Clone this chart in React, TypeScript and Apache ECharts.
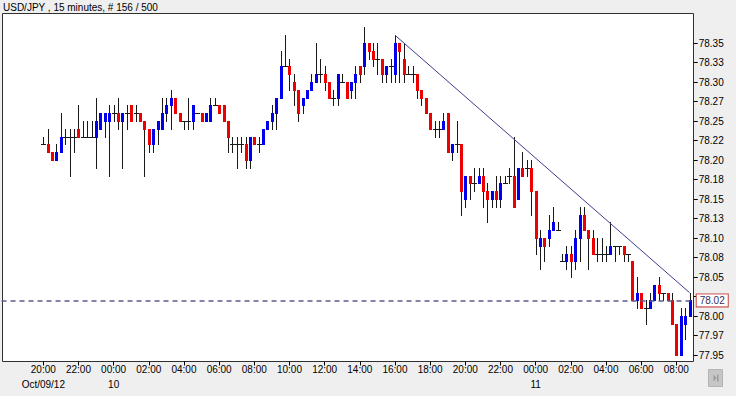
import React, { useEffect, useRef } from "react";
import * as echarts from "echarts";

// ---------- data ----------
const TITLE = "USD/JPY , 15 minutes, # 156 / 500";
const PAD = 9; // empty 15-minute slots before the first candle (17:45 .. 19:45)
const SLOTS = 157;

// [open, high, low, close] per 15-minute bar, Oct 9 20:00 -> Oct 11 08:45
const ohlc: number[][] = [
  // Oct 9 20:00
  [78.22, 78.23, 78.22, 78.22], [78.22, 78.24, 78.21, 78.21], [78.21, 78.21, 78.2, 78.2], [78.2, 78.22, 78.2, 78.21],
  [78.21, 78.26, 78.21, 78.23], [78.23, 78.24, 78.22, 78.23], [78.23, 78.24, 78.18, 78.23], [78.23, 78.24, 78.21, 78.23],
  // 22:00
  [78.24, 78.27, 78.23, 78.23], [78.23, 78.25, 78.23, 78.23], [78.23, 78.25, 78.23, 78.23], [78.23, 78.25, 78.23, 78.23],
  [78.23, 78.28, 78.19, 78.25], [78.24, 78.26, 78.24, 78.26], [78.25, 78.26, 78.23, 78.26], [78.25, 78.27, 78.18, 78.26],
  // Oct 10 00:00
  [78.26, 78.27, 78.25, 78.26], [78.26, 78.28, 78.24, 78.25], [78.25, 78.26, 78.19, 78.26], [78.26, 78.27, 78.24, 78.26],
  [78.27, 78.27, 78.25, 78.25], [78.26, 78.27, 78.25, 78.26], [78.26, 78.26, 78.25, 78.25], [78.25, 78.25, 78.18, 78.24],
  // 02:00
  [78.24, 78.24, 78.21, 78.22], [78.22, 78.24, 78.21, 78.24], [78.24, 78.25, 78.22, 78.25], [78.24, 78.28, 78.24, 78.26],
  [78.26, 78.28, 78.25, 78.27], [78.27, 78.29, 78.24, 78.28], [78.28, 78.28, 78.26, 78.26], [78.26, 78.26, 78.25, 78.25],
  // 04:00
  [78.25, 78.25, 78.24, 78.25], [78.25, 78.28, 78.24, 78.25], [78.25, 78.27, 78.24, 78.27], [78.26, 78.26, 78.26, 78.26],
  [78.26, 78.26, 78.25, 78.25], [78.25, 78.26, 78.25, 78.26], [78.25, 78.28, 78.25, 78.27], [78.27, 78.28, 78.27, 78.27],
  // 06:00
  [78.27, 78.27, 78.26, 78.26], [78.27, 78.27, 78.25, 78.25], [78.25, 78.25, 78.21, 78.23], [78.22, 78.23, 78.21, 78.22],
  [78.22, 78.23, 78.19, 78.22], [78.22, 78.23, 78.21, 78.22], [78.22, 78.23, 78.19, 78.2], [78.2, 78.23, 78.19, 78.23],
  // 08:00
  [78.23, 78.23, 78.22, 78.22], [78.22, 78.23, 78.21, 78.22], [78.22, 78.24, 78.22, 78.24], [78.24, 78.25, 78.24, 78.25],
  [78.25, 78.27, 78.24, 78.26], [78.26, 78.28, 78.24, 78.28], [78.28, 78.34, 78.28, 78.32], [78.32, 78.36, 78.32, 78.32],
  // 10:00
  [78.32, 78.33, 78.29, 78.31], [78.3, 78.31, 78.27, 78.29], [78.29, 78.29, 78.25, 78.26], [78.27, 78.28, 78.26, 78.28],
  [78.28, 78.29, 78.28, 78.29], [78.29, 78.31, 78.29, 78.3], [78.3, 78.35, 78.3, 78.31], [78.31, 78.33, 78.3, 78.31],
  // 12:00
  [78.31, 78.32, 78.29, 78.3], [78.3, 78.3, 78.28, 78.28], [78.28, 78.29, 78.27, 78.28], [78.28, 78.31, 78.27, 78.31],
  [78.3, 78.31, 78.3, 78.3], [78.3, 78.3, 78.28, 78.28], [78.29, 78.3, 78.28, 78.3], [78.3, 78.32, 78.28, 78.31],
  // 14:00
  [78.32, 78.32, 78.3, 78.31], [78.32, 78.37, 78.31, 78.35], [78.35, 78.35, 78.33, 78.34], [78.34, 78.35, 78.32, 78.33],
  [78.33, 78.35, 78.31, 78.33], [78.33, 78.33, 78.3, 78.31], [78.31, 78.32, 78.3, 78.32], [78.32, 78.33, 78.3, 78.32],
  // 16:00
  [78.31, 78.36, 78.3, 78.35], [78.35, 78.35, 78.3, 78.34], [78.33, 78.35, 78.3, 78.31], [78.31, 78.32, 78.31, 78.31],
  [78.31, 78.32, 78.3, 78.31], [78.31, 78.31, 78.28, 78.29], [78.29, 78.29, 78.27, 78.28], [78.28, 78.28, 78.26, 78.26],
  // 18:00
  [78.26, 78.26, 78.24, 78.24], [78.24, 78.25, 78.23, 78.24], [78.24, 78.25, 78.23, 78.24], [78.24, 78.26, 78.24, 78.25],
  [78.26, 78.26, 78.21, 78.21], [78.21, 78.22, 78.2, 78.22], [78.22, 78.25, 78.21, 78.22], [78.22, 78.22, 78.13, 78.16],
  // 20:00
  [78.15, 78.18, 78.14, 78.18], [78.18, 78.18, 78.15, 78.17], [78.17, 78.19, 78.16, 78.17], [78.17, 78.19, 78.17, 78.18],
  [78.18, 78.19, 78.14, 78.16], [78.16, 78.17, 78.12, 78.15], [78.15, 78.16, 78.14, 78.16], [78.16, 78.18, 78.14, 78.15],
  // 22:00
  [78.15, 78.18, 78.14, 78.17], [78.17, 78.18, 78.17, 78.17], [78.18, 78.19, 78.17, 78.18], [78.18, 78.23, 78.14, 78.14],
  [78.15, 78.19, 78.15, 78.19], [78.19, 78.21, 78.18, 78.18], [78.19, 78.2, 78.18, 78.19], [78.19, 78.2, 78.13, 78.16],
  // Oct 11 00:00
  [78.16, 78.16, 78.08, 78.1], [78.09, 78.11, 78.06, 78.1], [78.1, 78.1, 78.07, 78.09], [78.1, 78.13, 78.09, 78.11],
  [78.11, 78.14, 78.11, 78.12], [78.11, 78.12, 78.11, 78.11], [78.07, 78.08, 78.07, 78.07], [78.07, 78.09, 78.06, 78.08],
  // 02:00
  [78.08, 78.09, 78.05, 78.07], [78.07, 78.11, 78.06, 78.1], [78.1, 78.14, 78.07, 78.13], [78.13, 78.14, 78.11, 78.11],
  [78.11, 78.11, 78.06, 78.1], [78.1, 78.11, 78.08, 78.08], [78.08, 78.1, 78.07, 78.08], [78.08, 78.1, 78.07, 78.08],
  // 04:00
  [78.08, 78.09, 78.07, 78.08], [78.08, 78.12, 78.08, 78.09], [78.09, 78.09, 78.07, 78.09], [78.09, 78.09, 78.08, 78.09],
  [78.09, 78.09, 78.07, 78.08], [78.08, 78.08, 78.07, 78.08], [78.07, 78.07, 78.02, 78.02], [78.02, 78.05, 78.01, 78.03],
  // 06:00
  [78.03, 78.03, 78.01, 78.01], [78.01, 78.02, 77.99, 78.01], [78.01, 78.03, 78.01, 78.02], [78.02, 78.04, 78.02, 78.04],
  [78.04, 78.05, 78.02, 78.03], [78.03, 78.03, 78.02, 78.03], [78.03, 78.03, 78.02, 78.02], [78.02, 78.03, 77.99, 77.99],
  // 08:00
  [77.99, 77.99, 77.95, 77.95], [77.95, 78.01, 77.95, 78.0], [77.99, 78.01, 77.97, 78.0], [78.0, 78.03, 78.0, 78.02],
];

const BID = 78.02;
const trendStart = { bar: 80, price: 78.36 };
const trendEnd = { bar: 147, price: 78.03 };

const yTickValues = [77.95, 77.975, 78.0, 78.025, 78.05, 78.075, 78.1, 78.125, 78.15, 78.175, 78.2, 78.225, 78.25, 78.275, 78.3, 78.325, 78.35];
const yTickLabels = ["77.95", "77.97", "78.00", "78.03", "78.05", "78.08", "78.10", "78.13", "78.15", "78.18", "78.20", "78.22", "78.25", "78.27", "78.30", "78.33", "78.35"];
const dateRow: Record<number, string> = { 0: "Oct/09/12", 16: "10", 112: "11" };

// category labels: one per 15-minute slot starting Oct 9 17:45
const pad2 = (n: number) => (n < 10 ? "0" + n : "" + n);
const categories: string[] = [];
for (let k = 0; k < SLOTS; k++) {
  const mins = 17 * 60 + 45 + k * 15;
  const day = 9 + Math.floor(mins / 1440);
  const m = mins % 1440;
  categories.push(`${day} ${pad2(Math.floor(m / 60))}:${pad2(m % 60)}`);
}

// ---------- style ----------
const FONT = "'Liberation Sans', Arial, sans-serif";
const UP = "#0000ee";
const DOWN = "#ee0000";
const WICK = "#1a1a1a";
const TREND = "#3c3c90";
const BIDCOL = "#5c5c8c";

const Y_MIN = 78.35 - (361.5 - 43) / 780;
const Y_MAX = 78.35 + (43 - 13.5) / 780;

const showTick = (index: number) => index >= PAD && (index - PAD) % 8 === 0;

function buildOption(): any {
  const candleData = ohlc.map((r, i) => [i + PAD, r[0], r[1], r[2], r[3]]);
  return {
    animation: false,
    backgroundColor: "#efefef",
    textStyle: { fontFamily: FONT },
    title: {
      text: TITLE,
      left: 3,
      top: 2,
      padding: 0,
      textStyle: { fontSize: 10, fontWeight: "normal", color: "#000", fontFamily: FONT },
    },
    grid: { left: 1.54, right: 44.29, top: 13.5, bottom: 34.5, show: false },
    xAxis: {
      type: "category",
      data: categories,
      boundaryGap: true,
      axisLine: { show: false },
      splitLine: { show: false },
      axisTick: { show: true, alignWithLabel: true, interval: showTick, length: 4, lineStyle: { color: "#000" } },
      axisLabel: {
        interval: showTick,
        fontSize: 10,
        color: "#000",
        fontFamily: FONT,
        margin: 0,
        lineHeight: 15,
        formatter: (value: string, index: number) => {
          const t = value.split(" ")[1];
          const d = dateRow[index - PAD];
          return d ? t + "\n" + d : t;
        },
      },
    },
    yAxis: {
      type: "value",
      position: "right",
      offset: 2,
      min: Y_MIN,
      max: Y_MAX,
      scale: true,
      splitLine: { show: false },
      axisLine: { show: false },
      axisTick: { show: true, length: 4, customValues: yTickValues, lineStyle: { color: "#000" } },
      axisLabel: {
        customValues: yTickValues,
        fontSize: 10,
        color: "#000",
        fontFamily: FONT,
        margin: 5,
        formatter: (val: number) => {
          if (Math.abs(val - BID) < 0.012) return "";
          const k = yTickValues.findIndex((v) => Math.abs(v - val) < 1e-6);
          return k >= 0 ? yTickLabels[k] : "";
        },
      },
    },
    graphic: [
      {
        type: "rect",
        z: -10,
        silent: true,
        shape: { x: 2.5, y: 13.5, width: 691, height: 348 },
        style: { fill: "#ffffff", stroke: "#303030", lineWidth: 1 },
      },
      {
        type: "group",
        left: 708,
        top: 369,
        silent: true,
        children: [
          { type: "rect", shape: { x: 0, y: 0, width: 14, height: 17 }, style: { fill: "#c6c6c6", stroke: "#b4b4b4", lineWidth: 1 } },
          { type: "polygon", shape: { points: [[5, 5], [8, 8.5], [5, 12]] }, style: { fill: "#9c9c9c" } },
          { type: "rect", shape: { x: 8.5, y: 5, width: 1.5, height: 7 }, style: { fill: "#9c9c9c" } },
        ],
      },
    ],
    series: [
      {
        type: "custom",
        data: candleData,
        encode: { x: 0, y: [1, 2, 3, 4] },
        clip: true,
        z: 3,
        renderItem: (params: any, api: any) => {
          const i = api.value(0);
          const o = api.value(1);
          const h = api.value(2);
          const l = api.value(3);
          const c = api.value(4);
          const pO = api.coord([i, o]);
          const cx = Math.round(pO[0]);
          const yO = Math.round(pO[1]);
          const yC = Math.round(api.coord([i, c])[1]);
          const yH = Math.round(api.coord([i, h])[1]);
          const yL = Math.round(api.coord([i, l])[1]);
          const children: any[] = [
            { type: "line", shape: { x1: cx + 0.5, y1: yH, x2: cx + 0.5, y2: yL + 1 }, style: { stroke: WICK, lineWidth: 1 } },
          ];
          if (Math.abs(o - c) < 1e-9) {
            children.push({ type: "line", shape: { x1: cx - 2, y1: yO + 0.5, x2: cx + 3, y2: yO + 0.5 }, style: { stroke: WICK, lineWidth: 1 } });
          } else {
            const top = Math.min(yO, yC);
            const bot = Math.max(yO, yC);
            children.push({ type: "rect", shape: { x: cx - 1, y: top, width: 3, height: bot - top + 1 }, style: { fill: c > o ? UP : DOWN } });
          }
          return { type: "group", children };
        },
      },
      {
        type: "line",
        z: 4,
        data: [
          [trendStart.bar + PAD, trendStart.price],
          [trendEnd.bar + PAD, trendEnd.price],
        ],
        symbol: "none",
        silent: true,
        lineStyle: { color: TREND, width: 1 },
        markLine: {
          silent: true,
          symbol: "none",
          animation: false,
          data: [{ yAxis: BID }],
          lineStyle: { color: BIDCOL, width: 1.5, type: [5, 4] },
          label: {
            show: true,
            position: "end",
            distance: 5,
            formatter: BID.toFixed(2),
            fontSize: 10,
            fontFamily: FONT,
            color: "#30305e",
            backgroundColor: "#ffffff",
            borderColor: "#c84040",
            borderWidth: 1,
            padding: [1, 3, 1, 3],
            lineHeight: 10,
          },
        },
      },
    ],
  };
}

export default function App() {
  const ref = useRef<HTMLDivElement>(null);
  useEffect(() => {
    document.body.style.margin = "0";
    const chart = echarts.init(ref.current!, null, { renderer: "svg" });
    chart.setOption(buildOption());
    return () => chart.dispose();
  }, []);
  return <div ref={ref} style={{ position: "absolute", left: 0, top: 0, width: 736, height: 396, background: "#efefef" }} />;
}
